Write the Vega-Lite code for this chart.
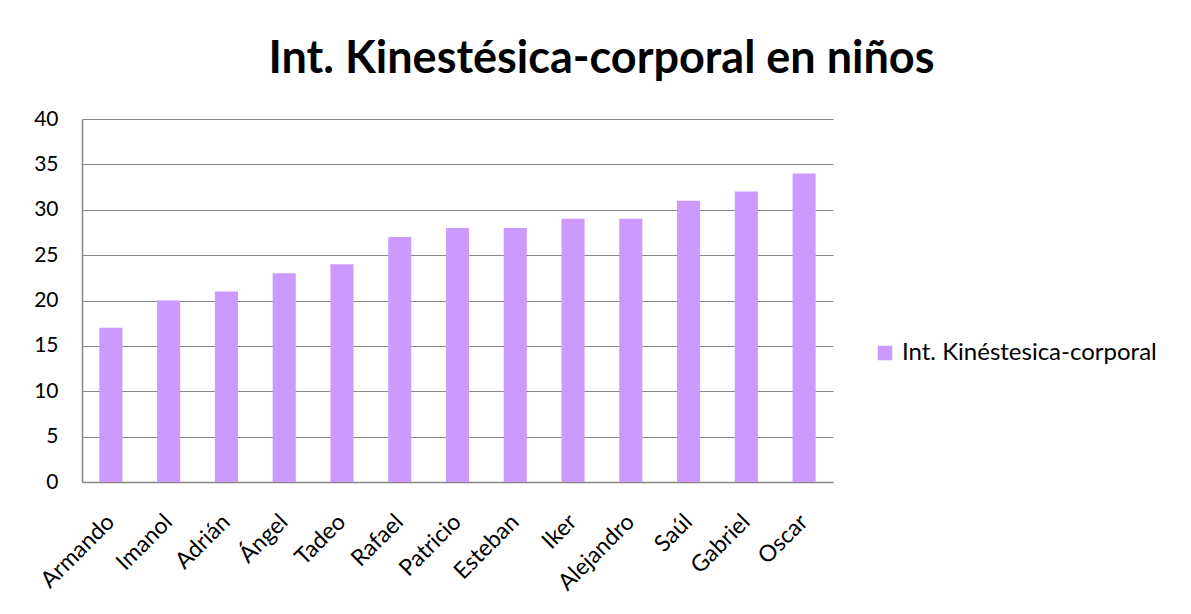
{
  "$schema": "https://vega.github.io/schema/vega-lite/v6.json",
  "width": 751,
  "height": 363,
  "autosize": {"type": "none"},
  "padding": {"left": 82, "top": 119, "right": 358, "bottom": 132},
  "background": "white",
  "config": {
    "font": "Lato",
    "view": {"stroke": null}
  },
  "title": {
    "text": "Int. Kinestésica-corporal en niños",
    "font": "Lato",
    "fontSize": 45,
    "fontWeight": "bold",
    "color": "#000000",
    "anchor": "middle",
    "dx": 144,
    "offset": 26
  },
  "data": {
    "values": [
      {"nombre": "Armando", "valor": 17, "serie": "Int. Kinéstesica-corporal"},
      {"nombre": "Imanol", "valor": 20, "serie": "Int. Kinéstesica-corporal"},
      {"nombre": "Adrián", "valor": 21, "serie": "Int. Kinéstesica-corporal"},
      {"nombre": "Ángel", "valor": 23, "serie": "Int. Kinéstesica-corporal"},
      {"nombre": "Tadeo", "valor": 24, "serie": "Int. Kinéstesica-corporal"},
      {"nombre": "Rafael", "valor": 27, "serie": "Int. Kinéstesica-corporal"},
      {"nombre": "Patricio", "valor": 28, "serie": "Int. Kinéstesica-corporal"},
      {"nombre": "Esteban", "valor": 28, "serie": "Int. Kinéstesica-corporal"},
      {"nombre": "Iker", "valor": 29, "serie": "Int. Kinéstesica-corporal"},
      {"nombre": "Alejandro", "valor": 29, "serie": "Int. Kinéstesica-corporal"},
      {"nombre": "Saúl", "valor": 31, "serie": "Int. Kinéstesica-corporal"},
      {"nombre": "Gabriel", "valor": 32, "serie": "Int. Kinéstesica-corporal"},
      {"nombre": "Oscar", "valor": 34, "serie": "Int. Kinéstesica-corporal"}
    ]
  },
  "mark": {"type": "bar"},
  "encoding": {
    "x": {
      "field": "nombre",
      "type": "nominal",
      "sort": null,
      "scale": {"paddingInner": 0.6, "paddingOuter": 0.3},
      "axis": {
        "title": null,
        "labelAngle": -45,
        "labelAlign": "right",
        "labelBaseline": "middle",
        "labelPadding": 36,
        "labelFontSize": 23,
        "labelColor": "#000000",
        "labelFont": "Lato",
        "labelOverlap": false,
        "labelLimit": 0,
        "ticks": false,
        "domainColor": "#868686",
        "domainWidth": 1.5,
        "grid": false
      }
    },
    "y": {
      "field": "valor",
      "type": "quantitative",
      "scale": {"domain": [0, 40], "nice": false},
      "axis": {
        "title": null,
        "values": [0, 5, 10, 15, 20, 25, 30, 35, 40],
        "labelFontSize": 21,
        "labelColor": "#000000",
        "labelFont": "Lato",
        "labelPadding": 24,
        "ticks": false,
        "domainColor": "#868686",
        "domainWidth": 1.5,
        "grid": true,
        "gridColor": "#868686",
        "gridWidth": 1.2
      }
    },
    "color": {
      "field": "serie",
      "type": "nominal",
      "scale": {"range": ["#CC99FF"]},
      "legend": {
        "title": null,
        "orient": "none",
        "legendX": 791,
        "legendY": 222,
        "padding": 0,
        "symbolType": "square",
        "symbolSize": 210,
        "symbolStrokeWidth": 0,
        "labelFontSize": 24,
        "labelColor": "#000000",
        "labelFont": "Lato",
        "labelLimit": 0,
        "labelOffset": 5
      }
    }
  }
}
